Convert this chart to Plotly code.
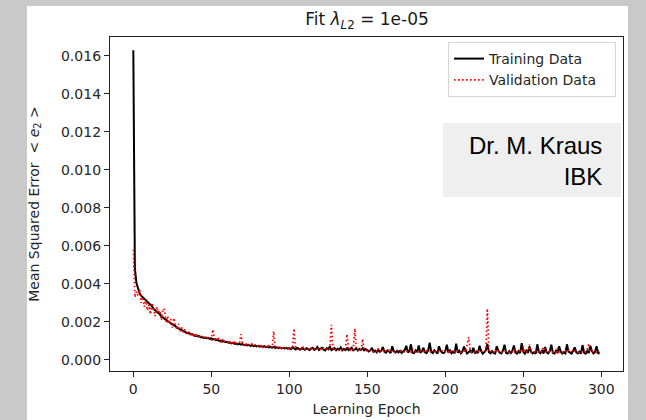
import plotly.graph_objects as go

# Mean squared error per epoch, in units of 1e-5
epochs = list(range(300))

train_e5 = [
    1630, 480, 405, 372, 352, 338, 330, 318, 312, 302,
    298, 288, 282, 268, 262, 256, 246, 240, 226, 224,
    216, 212, 202, 200, 192, 188, 180, 178, 170, 166,
    164, 156, 155, 148, 148, 140, 141, 134, 135, 128,
    129, 124, 125, 120, 121, 116, 118, 114, 116, 111,
    113, 108, 110, 104, 106, 100, 102, 96, 99, 93,
    95, 90, 92, 87, 90, 84, 86, 82, 85, 80,
    83, 78, 80, 76, 79, 74, 77, 72, 76, 71,
    74, 70, 73, 68, 72, 67, 70, 66, 69, 64,
    68, 63, 66, 62, 65, 61, 64, 60, 63, 59,
    62, 56, 66, 60, 55, 64, 58, 54, 62, 57,
    53, 61, 56, 52, 60, 64, 53, 58, 68, 52,
    59, 64, 54, 50, 62, 56, 70, 52, 57, 62,
    51, 59, 54, 66, 50, 58, 52, 62, 51, 57,
    64, 50, 56, 60, 49, 57, 52, 62, 50, 56,
    52, 44, 50, 64, 42, 49, 40, 52, 43, 48,
    68, 42, 38, 50, 44, 36, 72, 46, 38, 47,
    40, 48, 36, 46, 52, 74, 39, 47, 82, 38,
    36, 50, 42, 76, 37, 46, 64, 40, 35, 49,
    90, 42, 36, 50, 41, 34, 72, 48, 38, 36,
    46, 80, 38, 50, 35, 44, 34, 86, 38, 48,
    35, 44, 70, 46, 34, 40, 50, 36, 64, 34,
    44, 36, 74, 46, 33, 40, 50, 84, 40, 34,
    46, 36, 34, 72, 48, 38, 34, 50, 80, 36,
    33, 46, 36, 48, 76, 38, 33, 46, 36, 88,
    44, 33, 48, 36, 70, 44, 34, 40, 33, 82,
    42, 35, 48, 33, 68, 40, 34, 46, 80, 36,
    33, 48, 36, 72, 44, 33, 40, 34, 82, 44,
    36, 33, 48, 66, 40, 34, 44, 33, 78, 38,
    33, 46, 36, 74, 46, 34, 42, 72, 36, 34,
]

valid_e5 = [
    580, 330, 360, 340, 370, 300, 330, 280, 320, 260,
    290, 240, 300, 270, 230, 280, 250, 260, 210, 270,
    265, 200, 230, 190, 215, 170, 220, 180, 160, 190,
    150, 170, 145, 160, 138, 150, 130, 145, 125, 140,
    120, 135, 125, 115, 130, 118, 110, 125, 112, 108,
    105, 160, 115, 100, 120, 102, 96, 110, 92, 98,
    90, 95, 86, 100, 84, 92, 80, 88, 85, 135,
    82, 78, 90, 76, 80, 74, 84, 72, 78, 70,
    74, 68, 80, 66, 72, 70, 64, 75, 68, 62,
    150, 70, 60, 66, 58, 72, 62, 56, 68, 60,
    58, 64, 56, 165, 60, 55, 62, 58, 54, 70,
    56, 52, 60, 55, 62, 50, 58, 54, 60, 52,
    56, 50, 62, 55, 58, 52, 60, 185, 54, 58,
    52, 56, 50, 58, 54, 52, 60, 135, 56, 50,
    58, 52, 165, 55, 50, 56, 52, 110, 54, 50,
    48, 44, 52, 46, 42, 50, 45, 60, 43, 47,
    44, 58, 42, 46, 50, 41, 48, 44, 40, 52,
    45, 42, 48, 40, 44, 50, 42, 46, 41, 58,
    43, 40, 47, 42, 52, 41, 45, 39, 48, 42,
    46, 40, 44, 55, 41, 38, 45, 42, 48, 40,
    43, 46, 40, 52, 42, 38, 45, 41, 50, 43,
    40, 44, 48, 42, 85, 120, 46, 40, 44, 42,
    39, 45, 42, 40, 48, 44, 50, 270, 41, 44,
    42, 38, 55, 40, 46, 42, 39, 45, 41, 48,
    43, 40, 46, 42, 56, 39, 44, 41, 47, 40,
    70, 42, 40, 45, 80, 41, 44, 39, 48, 42,
    40, 46, 42, 68, 41, 44, 39, 47, 42, 40,
    45, 41, 62, 40, 44, 42, 38, 46, 41, 52,
    42, 44, 40, 48, 41, 39, 45, 42, 40, 46,
    42, 55, 85, 44, 40, 46, 41, 39, 44, 40,
]

x_ticks = [0, 50, 100, 150, 200, 250, 300]
y_ticks = [0.000, 0.002, 0.004, 0.006, 0.008, 0.010, 0.012, 0.014, 0.016]

train = [v * 1e-5 for v in train_e5]
valid = [v * 1e-5 for v in valid_e5]

W, H = 646, 420
L, R, T, B = 110, 23, 37, 49
pw, ph = W - L - R, H - T - B

def px_x(p):
    return (p - L) / pw

def px_y(p):
    return (H - B - p) / ph

font_main = "DejaVu Sans, Verdana, sans-serif"
txt = "#262626"
pad = "&nbsp;&nbsp;&nbsp;"

fig = go.Figure()
fig.add_trace(go.Scatter(x=epochs, y=train, mode="lines", name="Training Data" + pad,
                         line=dict(color="black", width=2)))
fig.add_trace(go.Scatter(x=epochs, y=valid, mode="lines", name="Validation Data" + pad,
                         line=dict(color="red", width=1.7, dash="1.6px,2.4px")))

fig.update_layout(
    width=W, height=H,
    margin=dict(l=L, r=R, t=T, b=B, autoexpand=False),
    paper_bgcolor="#c9c9c9",
    plot_bgcolor="white",
    font=dict(family=font_main, size=14, color=txt),
    title=dict(text="Fit <i>λ</i><sub><i>L</i>2</sub> = 1e-05", x=367 / W,
               xanchor="center", y=1 - 19 / H, yanchor="middle", yref="container",
               font=dict(size=17, color="#1a1a1a")),
    showlegend=True,
    legend=dict(x=px_x(616), xanchor="right", y=px_y(42), yanchor="top",
                bgcolor="white", bordercolor="#d6d6d6", borderwidth=1,
                font=dict(size=14, color=txt), itemwidth=30,
                tracegroupgap=0),
    xaxis=dict(range=[-14.95, 313.95], tickvals=x_ticks, ticktext=[str(t) for t in x_ticks],
               showgrid=False, zeroline=False, showline=True, mirror=True,
               linecolor="#222222", linewidth=1.3, ticks="outside", ticklen=5,
               tickcolor="#222222", tickfont=dict(size=14, color=txt),
               title=dict(text="Learning Epoch", standoff=8, font=dict(size=14, color=txt))),
    yaxis=dict(range=[-0.000585, 0.017], tickvals=y_ticks,
               ticktext=[f"{t:.3f}" for t in y_ticks],
               showgrid=False, zeroline=False, showline=True, mirror=True,
               linecolor="#222222", linewidth=1.3, ticks="outside", ticklen=5,
               tickcolor="#222222", tickfont=dict(size=14, color=txt),
               title=dict(text="Mean Squared Error  &lt; <i>e</i><sub>2</sub> &gt;", standoff=18,
                          font=dict(size=14, color=txt))),
    shapes=[
        dict(type="rect", xref="paper", yref="paper", layer="below",
             x0=px_x(27), x1=px_x(628), y0=px_y(425), y1=px_y(6),
             fillcolor="white", line=dict(width=0)),
        dict(type="rect", xref="paper", yref="paper", layer="below",
             x0=px_x(443), x1=px_x(621), y0=px_y(197), y1=px_y(123),
             fillcolor="#efefef", line=dict(width=0)),
    ],
    annotations=[
        dict(text="Dr. M. Kraus<br>IBK", xref="paper", yref="paper",
             x=px_x(604), y=px_y(161), xanchor="right", yanchor="middle",
             align="right", showarrow=False,
             font=dict(family="Liberation Sans, Arial, sans-serif", size=24, color="black")),
    ],
)

fig.write_html("out.html", config={"displayModeBar": False},
               post_script="document.body.style.margin='0';document.body.style.padding='0';")
